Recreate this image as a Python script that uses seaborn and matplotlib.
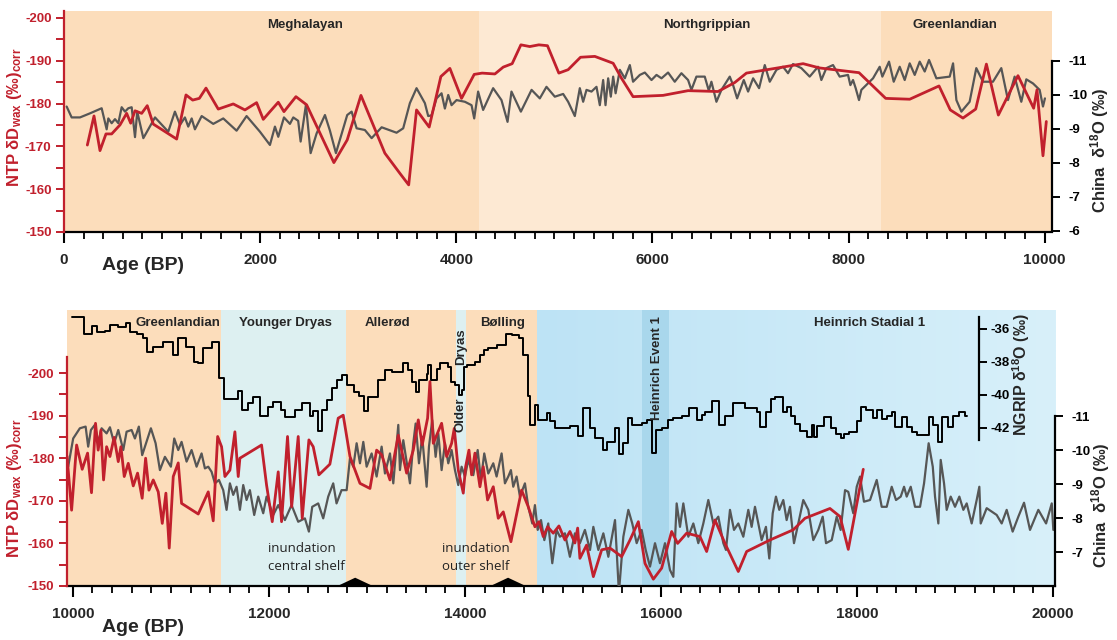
import numpy as np
import matplotlib
matplotlib.use("Agg")
import matplotlib.pyplot as plt
from matplotlib.ticker import MultipleLocator, FixedLocator
from matplotlib.colors import LinearSegmentedColormap
import seaborn as sns

### NTP leaf-wax dD vs. Chinese speleothem d18O (and NGRIP), 0-20 ka

# ---- Holocene panel (0-10 ka) ----
top_ntp_age = [238, 306, 367, 428, 486, 571, 639, 680, 724, 792, 849, 910, 1149, 1244, 1312,
               1380, 1448, 1573, 1726, 1845, 1964, 2032, 2100, 2185, 2243, 2365, 2474, 2752, 2888, 3028,
               3272, 3425, 3515, 3595, 3724, 3843, 3935, 4054, 4183, 4264, 4394, 4479, 4570, 4659, 4750,
               4842, 4930, 5046, 5141, 5267, 5413, 5600, 5685, 5803, 6109, 6364, 6669, 6840, 6959, 7197,
               7537, 7706, 8107, 8379, 8624, 8923, 9038, 9167, 9297, 9406, 9528, 9728, 9888, 9922, 9983,
               10017]
top_ntp_dD = [-170.3, -177.1, -169.0, -172.9, -172.9, -175.0, -177.7, -175.4, -178.3, -177.7, -179.5, -175.2,
              -171.7, -182.0, -180.8, -181.2, -183.6, -178.7, -179.9, -178.5, -180.2, -176.3, -178.1, -180.3,
              -178.1, -181.6, -179.7, -166.2, -171.5, -181.9, -168.4, -163.7, -161.0, -178.5, -174.5, -186.3,
              -188.2, -181.2, -186.8, -187.1, -186.9, -188.5, -189.3, -193.7, -193.3, -193.7, -193.5, -187.1,
              -187.9, -190.8, -191.0, -189.4, -185.9, -181.6, -181.9, -183.0, -182.8, -184.9, -187.1, -188.0,
              -189.3, -188.3, -187.2, -181.2, -181.0, -184.1, -178.5, -176.6, -178.7, -189.2, -177.3, -186.5,
              -178.9, -183.2, -167.8, -175.8]

top_china_age = [27, 78, 163, 265, 384, 435, 452, 486, 520, 554,
                 588, 622, 656, 690, 724, 747, 809, 928, 1063, 1131,
                 1183, 1233, 1267, 1302, 1335, 1404, 1522, 1624, 1760, 1862,
                 1998, 2100, 2151, 2185, 2243, 2304, 2338, 2388, 2413, 2467,
                 2515, 2576, 2661, 2712, 2773, 2888, 2933, 2984, 3068, 3137,
                 3239, 3391, 3459, 3527, 3595, 3680, 3714, 3748, 3799, 3850,
                 3884, 3918, 3952, 4003, 4088, 4156, 4183, 4223, 4274, 4376,
                 4461, 4523, 4563, 4659, 4768, 4852, 4920, 5005, 5090, 5141,
                 5209, 5260, 5294, 5328, 5379, 5430, 5464, 5498, 5522, 5549,
                 5576, 5600, 5625, 5668, 5719, 5770, 5803, 5872, 5923, 5991,
                 6042, 6093, 6160, 6228, 6296, 6364, 6398, 6449, 6534, 6575,
                 6602, 6653, 6704, 6789, 6823, 6864, 6932, 6976, 7027, 7088,
                 7146, 7197, 7265, 7332, 7383, 7434, 7519, 7604, 7689, 7723,
                 7774, 7842, 7910, 7995, 8019, 8046, 8073, 8107, 8131, 8250,
                 8318, 8345, 8413, 8461, 8522, 8573, 8624, 8675, 8726, 8777,
                 8821, 8896, 9032, 9066, 9100, 9151, 9235, 9303, 9371, 9473,
                 9558, 9626, 9694, 9762, 9813, 9881, 9949, 9983, 10003]
top_china_d18O = [-9.66, -9.34, -9.34, -9.46, -9.61, -8.99, -9.31, -9.17, -9.29, -9.17,
                  -9.64, -9.51, -9.61, -9.64, -8.76, -9.51, -8.73, -9.34, -8.92, -9.51,
                  -9.12, -9.34, -9.07, -9.31, -8.99, -9.38, -9.15, -9.31, -8.95, -9.38,
                  -8.92, -8.53, -9.07, -8.77, -9.34, -9.15, -9.34, -9.24, -8.63, -9.71,
                  -8.29, -8.87, -9.41, -8.95, -8.29, -9.41, -9.51, -9.02, -8.97, -8.73,
                  -9.05, -8.89, -9.02, -9.76, -10.2, -9.76, -9.38, -9.4, -9.9, -10.05,
                  -9.6, -10.0, -9.7, -9.85, -9.8, -9.7, -9.31, -10.1, -9.56, -10.2,
                  -9.85, -9.21, -10.1, -9.51, -10.15, -9.9, -10.24, -9.95, -10.03, -9.8,
                  -9.38, -10.2, -9.8, -10.15, -10.1, -10.24, -9.7, -10.44, -9.7, -10.49,
                  -9.95, -10.54, -10.05, -10.74, -10.49, -10.88, -10.39, -10.59, -10.66, -10.44,
                  -10.59, -10.49, -10.66, -10.39, -10.64, -10.44, -10.15, -10.54, -10.54, -10.13,
                  -10.39, -9.8, -10.15, -10.54, -10.29, -9.9, -10.44, -10.1, -10.49, -10.2,
                  -10.88, -10.39, -10.74, -10.83, -10.64, -10.91, -10.79, -10.54, -10.83, -10.44,
                  -10.79, -10.88, -10.54, -10.59, -10.29, -10.44, -10.2, -9.85, -10.15, -10.49,
                  -10.83, -10.54, -10.98, -10.39, -10.83, -10.44, -10.93, -10.59, -10.98, -10.69,
                  -11.03, -10.49, -10.54, -10.93, -9.85, -9.51, -9.8, -10.79, -10.39, -10.39,
                  -10.79, -9.85, -10.54, -9.8, -10.46, -10.34, -10.15, -9.66, -9.9]

top_period_names = ["Meghalayan", "Northgrippian", "Greenlandian"]
top_period_start = [0, 4230, 8330]
top_period_end = [4230, 8330, 10075]

# ---- Late glacial panel (10-20 ka) ----
bot_ntp_age = [9940, 9987, 10038, 10095, 10150, 10190, 10231, 10258, 10286, 10313,
               10344, 10378, 10421, 10463, 10490, 10524, 10565, 10616, 10660, 10707,
               10742, 10776, 10820, 10871, 10912, 10949, 10983, 11024, 11075, 11109,
               11279, 11381, 11432, 11477, 11517, 11551, 11602, 11653, 11687, 11704,
               11925, 11976, 12034, 12095, 12129, 12190, 12232, 12299, 12340, 12408,
               12452, 12510, 12622, 12707, 12758, 12827, 12929, 13031, 13099, 13150,
               13235, 13320, 13405, 13473, 13524, 13564, 13619, 13643, 13677, 13762,
               13813, 13864, 13891, 13932, 13983, 14007, 14041, 14068, 14102, 14153,
               14187, 14231, 14289, 14340, 14391, 14469, 14578, 14646, 14714, 14755,
               14799, 14844, 14901, 14959, 15020, 15071, 15122, 15150, 15173, 15241,
               15310, 15395, 15480, 15599, 15684, 15769, 15837, 15922, 16007, 16109,
               16170, 16262, 16398, 16466, 16551, 16653, 16789, 16874, 17112, 17350,
               17469, 17724, 17827, 17911, 18064]
bot_ntp_dD = [-180.5, -167.8, -183.1, -177.4, -181.2, -171.9, -188.2, -181.9, -186.6, -174.9,
              -182.7, -180.4, -184.9, -179.2, -182.7, -175.7, -178.8, -173.5, -176.5, -170.6,
              -180.0, -172.5, -174.9, -172.1, -164.7, -171.8, -158.9, -175.7, -178.9, -169.4,
              -166.9, -172.1, -165.3, -185.1, -182.7, -175.7, -177.2, -186.2, -175.7, -180.0,
              -183.1, -173.7, -165.1, -176.8, -165.1, -185.1, -168.6, -185.1, -165.9, -184.3,
              -182.7, -176.1, -178.6, -189.4, -190.1, -180.4, -174.1, -172.9, -181.9, -180.8,
              -174.9, -185.4, -176.5, -181.9, -189.0, -183.1, -189.4, -198.0, -183.5, -188.2,
              -180.4, -183.5, -187.0, -177.2, -171.8, -178.0, -181.9, -176.1, -181.2, -173.3,
              -178.0, -170.2, -173.3, -165.9, -167.4, -160.4, -172.5, -168.6, -163.9, -165.1,
              -161.6, -163.9, -162.4, -164.1, -160.8, -162.8, -160.1, -163.6, -156.5, -159.6,
              -152.2, -158.5, -158.9, -156.9, -160.8, -165.1, -155.3, -151.6, -154.2, -162.8,
              -160.0, -162.4, -161.6, -158.1, -165.5, -160.0, -153.4, -158.1, -160.8, -163.2,
              -165.9, -168.2, -166.3, -158.6, -177.4]

bot_china_age = [9952, 10003, 10071, 10130, 10156, 10184, 10224, 10258, 10293, 10344,
                 10378, 10421, 10463, 10514, 10548, 10599, 10633, 10673, 10707, 10762,
                 10796, 10844, 10888, 10939, 11000, 11034, 11075, 11109, 11160, 11211,
                 11262, 11313, 11347, 11381, 11415, 11449, 11490, 11534, 11568, 11602,
                 11636, 11670, 11704, 11738, 11772, 11806, 11850, 11891, 11942, 11976,
                 12044, 12095, 12163, 12231, 12299, 12367, 12408, 12442, 12503, 12554,
                 12605, 12656, 12690, 12741, 12793, 12827, 12861, 12895, 12929, 12963,
                 12997, 13048, 13099, 13150, 13184, 13235, 13269, 13320, 13337, 13371,
                 13405, 13439, 13473, 13497, 13531, 13564, 13609, 13633, 13666, 13701,
                 13728, 13762, 13796, 13830, 13864, 13898, 13932, 13966, 14000, 14034,
                 14085, 14130, 14163, 14197, 14238, 14289, 14323, 14374, 14408, 14442,
                 14469, 14493, 14527, 14561, 14612, 14646, 14687, 14714, 14742, 14776,
                 14810, 14850, 14891, 14935, 14969, 15020, 15071, 15122, 15173, 15224,
                 15276, 15310, 15361, 15412, 15463, 15531, 15571, 15616, 15667, 15707,
                 15752, 15803, 15844, 15888, 15939, 15990, 16041, 16092, 16126, 16160,
                 16194, 16228, 16279, 16330, 16381, 16432, 16483, 16534, 16585, 16636,
                 16663, 16704, 16745, 16789, 16840, 16891, 16925, 16959, 16993, 17027,
                 17071, 17105, 17140, 17173, 17207, 17248, 17282, 17316, 17357, 17401,
                 17452, 17503, 17554, 17605, 17650, 17684, 17742, 17793, 17833, 17878,
                 17911, 17962, 17997, 18031, 18071, 18133, 18201, 18252, 18303, 18354,
                 18398, 18446, 18480, 18507, 18548, 18592, 18643, 18684, 18731, 18773,
                 18796, 18830, 18854, 18888, 18915, 18956, 19000, 19044, 19085, 19119,
                 19170, 19221, 19248, 19262, 19323, 19425, 19476, 19527, 19588, 19646,
                 19704, 19765, 19850, 19929, 19987, 20003]
bot_china_d18O = [-9.51, -10.34, -10.64, -10.69, -10.1, -10.59, -10.74, -10.2, -10.64, -10.49,
                  -10.67, -10.2, -10.59, -10.0, -10.54, -10.59, -10.34, -10.69, -9.85, -10.34,
                  -10.64, -10.2, -9.41, -9.8, -9.51, -10.34, -10.0, -10.24, -9.66, -10.0,
                  -9.51, -9.9, -9.46, -9.51, -9.36, -9.02, -9.12, -8.82, -8.24, -9.02,
                  -8.68, -8.92, -8.24, -8.97, -8.53, -8.82, -8.09, -8.63, -8.14, -8.63,
                  -8.09, -8.38, -7.94, -8.38, -7.89, -7.99, -7.6, -8.33, -8.43, -7.99,
                  -8.63, -9.02, -8.43, -8.82, -8.82, -9.76, -9.51, -10.2, -9.61, -10.24,
                  -9.51, -9.9, -9.22, -10.1, -9.31, -9.9, -9.02, -10.74, -9.41, -10.29,
                  -9.66, -9.02, -10.2, -10.78, -9.61, -10.39, -8.92, -10.1, -10.88, -9.8,
                  -10.49, -9.41, -10.2, -9.61, -10.0, -9.41, -8.97, -9.51, -9.22, -9.71,
                  -9.26, -10.0, -9.12, -9.9, -9.31, -9.61, -9.22, -9.9, -9.02, -9.22,
                  -9.41, -8.92, -9.22, -8.63, -9.02, -8.33, -7.84, -8.38, -7.65, -7.94,
                  -7.35, -7.84, -6.67, -7.65, -7.45, -7.55, -6.86, -7.55, -7.26, -7.65,
                  -7.06, -7.74, -7.06, -7.55, -6.86, -7.94, -5.8, -7.45, -8.24, -7.84,
                  -7.26, -7.65, -7.06, -6.57, -7.26, -6.67, -7.26, -6.47, -6.27, -8.43,
                  -7.74, -8.43, -7.45, -7.84, -7.26, -7.84, -8.53, -7.84, -8.04, -7.26,
                  -7.06, -8.24, -7.65, -7.84, -7.45, -8.24, -7.74, -8.33, -7.84, -7.35,
                  -7.74, -6.81, -8.14, -8.63, -8.24, -8.53, -7.94, -8.33, -7.26, -7.84,
                  -8.53, -8.24, -7.35, -7.65, -8.04, -7.26, -7.35, -8.04, -7.65, -8.82,
                  -8.77, -8.14, -8.92, -9.22, -8.48, -8.53, -9.12, -8.33, -8.33, -8.92,
                  -8.53, -8.63, -8.92, -8.63, -8.92, -8.33, -8.33, -9.02, -10.2, -9.51,
                  -8.63, -7.84, -9.71, -9.02, -8.24, -8.63, -8.33, -8.63, -8.24, -8.43,
                  -7.84, -8.53, -8.92, -7.84, -8.29, -8.09, -7.84, -8.24, -7.6, -8.04,
                  -8.45, -7.65, -8.24, -7.84, -8.43, -7.65]

# NGRIP d18O, step starts (last value repeated at the end of the record)
ngrip_age = [9993, 10115, 10190, 10248, 10327, 10378, 10463, 10537, 10582, 10650,
             10718, 10752, 10820, 10922, 11024, 11075, 11150, 11238, 11279, 11330,
             11415, 11490, 11544, 11687, 11721, 11782, 11840, 11908, 11986, 12044,
             12122, 12163, 12265, 12333, 12418, 12452, 12503, 12537, 12588, 12639,
             12690, 12741, 12793, 12871, 12918, 12973, 13014, 13116, 13184, 13252,
             13371, 13415, 13456, 13497, 13531, 13609, 13626, 13653, 13711, 13745,
             13830, 13857, 13898, 13939, 13966, 13993, 14017, 14102, 14153, 14197,
             14238, 14323, 14415, 14476, 14551, 14595, 14646, 14663, 14714, 14742,
             14834, 14867, 14918, 15071, 15156, 15207, 15276, 15327, 15412, 15446,
             15531, 15571, 15616, 15667, 15701, 15803, 15854, 15905, 15946, 16007,
             16074, 16126, 16211, 16286, 16364, 16415, 16449, 16517, 16592, 16653,
             16738, 16857, 16976, 17010, 17071, 17119, 17163, 17241, 17282, 17323,
             17367, 17418, 17493, 17537, 17561, 17595, 17663, 17731, 17786, 17833,
             17867, 17922, 17997, 18037, 18092, 18167, 18201, 18252, 18303, 18354,
             18388, 18456, 18507, 18558, 18616, 18694, 18738, 18779, 18830, 18864,
             18932, 18983, 19044, 19102, 19126]
ngrip_d18O = [-35.3, -36.3, -35.82, -36.2, -36.1, -35.76, -35.88, -35.66, -36.2, -36.3,
              -36.56, -37.37, -37.1, -36.77, -37.58, -36.56, -37.07, -37.98, -38.08, -37.17,
              -36.77, -38.99, -40.26, -39.74, -40.91, -40.5, -40.1, -41.3, -40.7, -40.4,
              -40.91, -41.35, -40.91, -40.5, -41.3, -41.0, -42.16, -40.91, -40.3, -39.6,
              -39.1, -38.8, -39.4, -39.8, -40.06, -41.0, -40.14, -39.1, -38.5, -38.6,
              -38.08, -38.5, -39.2, -39.8, -39.1, -38.7, -38.2, -39.1, -38.4, -38.08,
              -38.3, -39.2, -39.4, -40.0, -39.7, -38.28, -38.2, -37.98, -37.58, -37.27,
              -37.17, -36.97, -36.3, -36.36, -36.56, -37.58, -40.06, -41.82, -40.6, -41.5,
              -41.1, -41.6, -42.02, -41.9, -42.5, -40.8, -42.02, -42.6, -43.33, -42.83,
              -42.0, -43.58, -42.93, -41.4, -41.82, -41.7, -41.5, -43.5, -42.1, -42.0,
              -41.5, -41.4, -41.27, -40.8, -41.5, -41.2, -41.05, -40.35, -41.82, -41.3,
              -40.47, -40.8, -41.05, -41.96, -41.05, -40.26, -40.14, -41.05, -40.7, -41.3,
              -41.76, -42.16, -42.52, -41.82, -42.52, -41.88, -41.35, -42.02, -42.36, -42.6,
              -42.36, -42.22, -41.6, -40.7, -40.9, -41.4, -40.9, -41.45, -41.3, -41.05,
              -41.96, -41.35, -41.96, -42.22, -42.42, -42.42, -41.35, -41.8, -42.83, -41.35,
              -41.96, -41.27, -41.05, -41.27, -41.27]

bot_period_names = ["Greenlandian", "Younger Dryas", "Allerød", "Older Dryas", "Bølling", "Heinrich Stadial 1"]
bot_period_start = [9940, 11510, 12786, 13908, 14010, 14735]
bot_period_end = [11510, 12786, 13908, 14010, 14735, 20020]
he1_start, he1_end = 15806, 16082
inundation_age = [12880, 14440]
inundation_text = ["inundation\ncentral shelf", "inundation\nouter shelf"]

# ---- style ----
RED = "#c1202d"
GRAY = "#565656"
ORANGE = "#fcddbb"
LIGHT_ORANGE = "#fde9d3"
CYAN = "#ddf0f1"

sns.set_style("ticks")
plt.rcParams["font.family"] = ["Liberation Sans", "DejaVu Sans"]
plt.rcParams["font.weight"] = "bold"
plt.rcParams["axes.unicode_minus"] = False
plt.rcParams["mathtext.default"] = "regular"

fig = plt.figure(figsize=(11.17, 6.4), dpi=100)


def base_axes(pos, xlim, xticks):
    ax = fig.add_axes(pos)
    ax.set_xlim(*xlim)
    ax.set_ylim(0, 1)
    ax.set_yticks([])
    for s in ["left", "right", "top"]:
        ax.spines[s].set_visible(False)
    ax.spines["bottom"].set_linewidth(1.6)
    ax.spines["bottom"].set_color("black")
    ax.xaxis.set_major_locator(FixedLocator(xticks))
    ax.xaxis.set_minor_locator(MultipleLocator(200))
    ax.tick_params(axis="x", which="major", length=8, width=1.5, labelsize=11, pad=7, color="black")
    ax.tick_params(axis="x", which="minor", length=5, width=1.3, color="black")
    return ax


def twin(ax, side, color, ylim, ticks, bounds, pad, minor=None):
    t = ax.twinx()
    for s in ["left", "right", "top", "bottom"]:
        t.spines[s].set_visible(False)
    if side == "left":
        t.yaxis.tick_left()
        t.yaxis.set_label_position("left")
    t.spines[side].set_visible(True)
    t.spines[side].set_color(color)
    t.spines[side].set_linewidth(1.6)
    t.spines[side].set_bounds(*bounds)
    t.set_ylim(*ylim)
    t.set_yticks(ticks)
    if minor is not None:
        t.yaxis.set_minor_locator(FixedLocator(minor))
    t.tick_params(axis="y", which="both", colors=color, length=6, width=1.4, labelsize=9.5, pad=pad)
    t.set_xlabel("")
    return t


# ================= top panel =================
ax1 = base_axes([64 / 1117, 1 - 232 / 640, 988 / 1117, 221 / 640], (0, 10075), range(0, 10001, 2000))
for name, a0, a1, c in zip(top_period_names, top_period_start, top_period_end,
                           [ORANGE, LIGHT_ORANGE, ORANGE]):
    ax1.axvspan(a0, a1, color=c, lw=0, zorder=0)

ax1_ch = twin(ax1, "right", "black", (-5.97, -12.47), range(-11, -5), (-11, -6), 6)
sns.lineplot(x=top_china_age, y=top_china_d18O, ax=ax1_ch, color=GRAY, lw=1.6, estimator=None, sort=False)
ax1_ch.set_ylabel("")

ax1_r = twin(ax1, "left", RED, (-150, -201.6), range(-200, -149, 10), (-150, -201.6), 3,
             minor=np.arange(-195, -150, 10))
sns.lineplot(x=top_ntp_age, y=top_ntp_dD, ax=ax1_r, color=RED, lw=2.0, estimator=None, sort=False)
ax1_r.set_ylabel("")
ax1.set_xlim(0, 10075)

for name, xpos in zip(top_period_names, [2460, 6560, 9090]):
    ax1_r.text(xpos, 0.937, name, transform=ax1.transData, ha="center", va="center", fontsize=9.5)

# ================= bottom panel =================
ax2 = base_axes([67 / 1117, 1 - 586 / 640, 988 / 1117, 276 / 640], (9940, 20020), range(10000, 20001, 2000))
span_colors = [ORANGE, CYAN, ORANGE, CYAN, ORANGE, None]
for a0, a1, c in zip(bot_period_start, bot_period_end, span_colors):
    if c is not None:
        ax2.axvspan(a0, a1, color=c, lw=0, zorder=0)
hs1_cmap = LinearSegmentedColormap.from_list("hs1", ["#bde3f5", "#d8f0fa"])
ax2.imshow(np.linspace(0, 1, 256).reshape(1, -1), extent=(bot_period_start[-1], bot_period_end[-1], 0, 1),
           aspect="auto", cmap=hs1_cmap, zorder=0)
ax2.axvspan(he1_start, he1_end, color="#a9d7ec", lw=0, zorder=0.5)

# inundation markers on the age axis
for age in inundation_age:
    ax2.fill([age - 180, age, age + 180], [0, 0.03, 0], color="black", lw=0, zorder=3, clip_on=False)

ax2_ch = twin(ax2, "right", "black", (-6.0, -14.12), range(-11, -6), (-11, -6), 6)
sns.lineplot(x=bot_china_age, y=bot_china_d18O, ax=ax2_ch, color=GRAY, lw=1.6, estimator=None, sort=False)
ax2_ch.set_ylabel("")

ax2_r = twin(ax2, "left", RED, (-150, -214.8), range(-200, -149, 10), (-150, -203.8), 3,
             minor=np.arange(-195, -150, 10))
sns.lineplot(x=bot_ntp_age, y=bot_ntp_dD, ax=ax2_r, color=RED, lw=2.0, estimator=None, sort=False)
ax2_r.set_ylabel("")

ax2_ng = twin(ax2, "right", "black", (-51.58, -34.85), [-36, -38, -40, -42], (-42.7, -35.3), 2)
ax2_ng.spines["right"].set_position(("axes", 0.923))
sns.lineplot(x=ngrip_age, y=ngrip_d18O, ax=ax2_ng, color="black", lw=1.4, drawstyle="steps-post",
             estimator=None, sort=False)
ax2_ng.set_ylabel("")
ax2.set_xlim(9940, 20020)

# period labels
label_x = [11071, 12173, 13214, None, 14388, 18133]
for name, xpos in zip(bot_period_names, label_x):
    if xpos is not None:
        ax2_ng.text(xpos, 0.953, name, transform=ax2.transData, ha="center", va="center", fontsize=9.5)
ax2_ng.text(13959, 0.866, "Dryas", transform=ax2.transData, rotation=90, ha="center", va="center", fontsize=9.5)
ax2_ng.text(13956, 0.62, "Older", transform=ax2.transData, rotation=90, ha="center", va="center", fontsize=9.5)
ax2_ng.text(15959, 0.79, "Heinrich Event 1", transform=ax2.transData, rotation=90, ha="center", va="center",
            fontsize=9.5)
for xpos, txt in zip([11990, 13765], inundation_text):
    ax2_ng.text(xpos, 0.158, txt, transform=ax2.transData, ha="left", va="top", fontsize=9.5,
                fontweight="normal", family=["Open Sans", "DejaVu Sans"], color="#222222", linespacing=1.45)

# axis titles
red_label = "NTP δD$_{wax}$ (‰)$_{corr}$"
china_label = "China  δ$^{18}$O (‰)"
fig.text(15 / 1117, 1 - 117 / 640, red_label, rotation=90, color=RED, fontsize=12, ha="center", va="center")
fig.text(15 / 1117, 1 - 488 / 640, red_label, rotation=90, color=RED, fontsize=12, ha="center", va="center")
fig.text(1100 / 1117, 1 - 150 / 640, china_label, rotation=90, fontsize=12, ha="center", va="center")
fig.text(1101 / 1117, 1 - 505 / 640, china_label, rotation=90, fontsize=12, ha="center", va="center")
fig.text(1021 / 1117, 1 - 375 / 640, "NGRIP δ$^{18}$O (‰)", rotation=90, fontsize=11.5, ha="center", va="center")
fig.text(143 / 1117, 1 - 265 / 640, "Age (BP)", fontsize=14, ha="center", va="center")
fig.text(143 / 1117, 1 - 628 / 640, "Age (BP)", fontsize=14, ha="center", va="center")

fig.savefig("out.png", dpi=100)
